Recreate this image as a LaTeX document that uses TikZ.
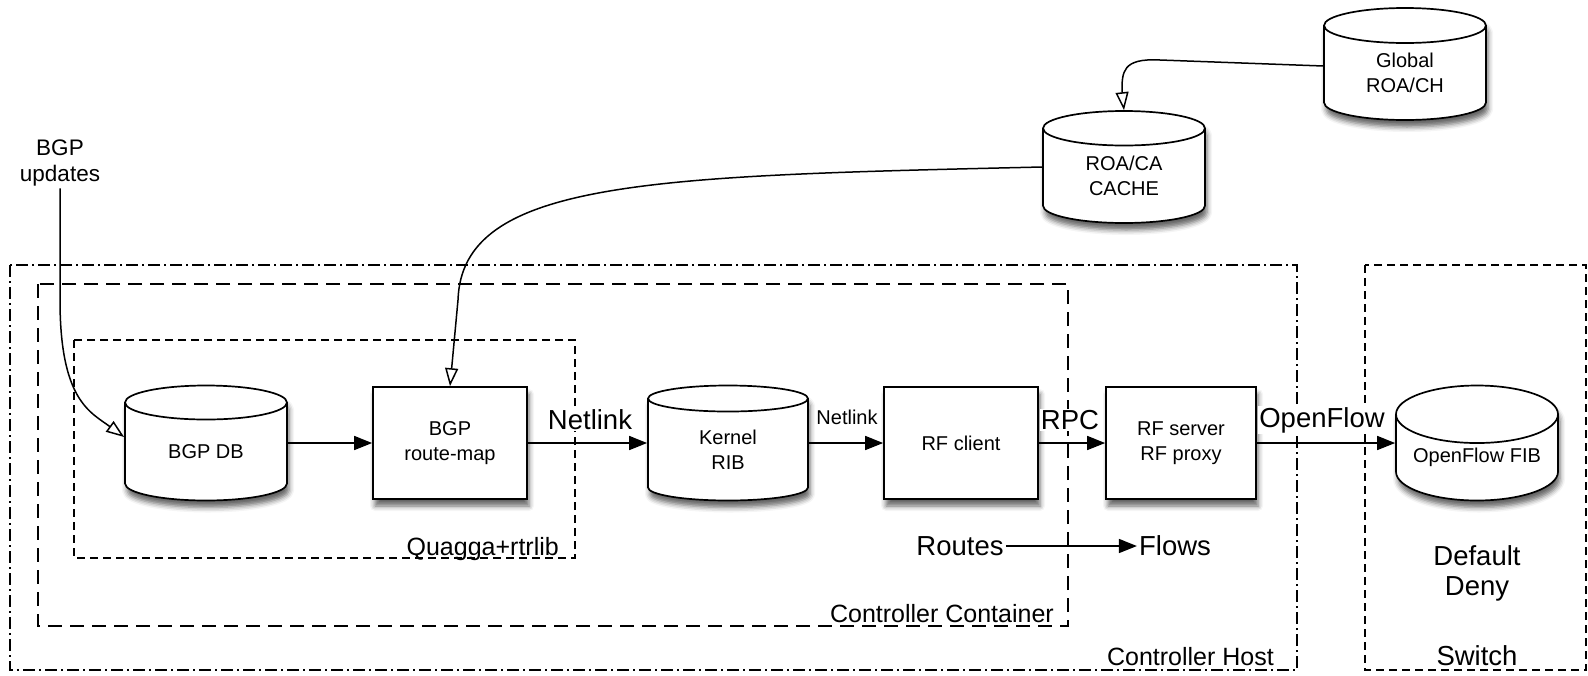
\documentclass[tikz,border=0pt]{standalone}
\usepackage{fontspec}
\setmainfont{Liberation Sans}
\usetikzlibrary{shapes.geometric, arrows.meta, shadows.blur}

\newcommand\nodefnt{\fontsize{20}{25}\selectfont}
\newcommand\lblfnt{\fontsize{27.5}{30}\selectfont}
\newcommand\boxfnt{\fontsize{25}{30}\selectfont}

\begin{document}
\begin{tikzpicture}[x=1pt, y=-1pt,
    db/.style={cylinder, shape border rotate=90, aspect=0.45, draw, line width=1.7pt, fill=white,
      minimum width=162pt, minimum height=115pt, inner sep=0pt, align=center, font=\nodefnt,
      anchor=shape center,
      blur shadow={shadow xshift=2pt, shadow yshift=-7pt, shadow blur radius=5pt, shadow opacity=60}},
    proc/.style={rectangle, draw, line width=1.7pt, fill=white, minimum width=154pt,
      minimum height=112pt, align=center, font=\nodefnt,
      blur shadow={shadow xshift=2pt, shadow yshift=-7pt, shadow blur radius=5pt, shadow opacity=60}},
    flow/.style={line width=1.5pt, -{Triangle[length=18pt,width=14pt]}},
    feed/.style={line width=1.5pt, -{Triangle[open,length=18pt,width=13pt]}},
    lbl/.style={font=\lblfnt, fill=white, inner sep=1pt},
    tag/.style={font=\lblfnt, align=center, inner sep=2pt},
  ]
\useasboundingbox (0,0) rectangle (1588,675);

% boxes
\draw[line width=1.5pt, dash pattern=on 12pt off 4pt on 2pt off 4pt] (10,265) rectangle (1297,670);
\draw[line width=1.5pt, dash pattern=on 14pt off 8pt] (38,284) rectangle (1068,626);
\draw[line width=1.5pt, dash pattern=on 8pt off 5pt] (74,340) rectangle (575,558);
\draw[line width=1.5pt, dash pattern=on 8pt off 5pt] (1365,265) rectangle (1586,670);

% main row
\node[db] (bgpdb) at (206,443) {BGP DB};
\node[proc] (routemap) at (450,443) {BGP\\route-map};
\node[db, minimum width=160pt] (kernel) at (728,443) {Kernel\\RIB};
\node[proc] (rfclient) at (961,443) {RF client};
\node[proc, minimum width=150pt] (rfserver) at (1181,443) {RF server\\RF proxy};
\node[db] (fib) at (1477,443) {OpenFlow FIB};

% caches
\node[db, minimum height=112pt] (cache) at (1124,167) {ROA/CA\\CACHE};
\node[db, minimum height=112pt] (global) at (1405,64) {Global\\ROA/CH};

% connectors
\draw[flow] (bgpdb.east |- routemap) -- (routemap);
\draw[flow] (routemap) -- (kernel.west |- routemap);
\draw[flow] (kernel.east |- rfclient) -- (rfclient);
\draw[flow] (rfclient) -- (rfserver);
\draw[flow] (rfserver) -- (fib.west |- rfserver);

\node[tag, font=\fontsize{22.5}{26}\selectfont] (upd) at (60,163) {BGP\\updates};
\draw[feed] (upd.south) -- (60,300) .. controls (60,400) and (90,412) .. (bgpdb.west |- 0,437);
\draw[feed] (cache.west |- 0,167) .. controls (650,176) and (462,180) .. (458,300) -- (routemap.north);
\draw[feed] (global.west |- 0,66) -- (1160,60) .. controls (1122,58) and (1122,72) .. (1122,92) -- (cache.north);

% labels
\node[lbl] (nl1) at (590,420) {Netlink};
\node[lbl, font=\nodefnt] (nl2) at (847,417) {Netlink};
\node[lbl] (rpc) at (1070,420) {RPC};
\node[lbl] (of) at (1322,420) {OpenFlow};

\node[tag] (routes) at (960,546) {Routes};
\node[tag] (flows) at (1175,546) {Flows};
\draw[flow] (routes) -- (flows);

\node[tag, font=\boxfnt, anchor=east] (quagga) at (561,549) {Quagga+rtrlib};
\node[tag, font=\boxfnt, anchor=east] (cont) at (1056,614) {Controller Container};
\node[tag, font=\boxfnt, anchor=east] (host) at (1276,657) {Controller Host};
\node[tag] (deny) at (1477,573) {Default\\Deny};
\node[tag] (sw) at (1477,656) {Switch};

\end{tikzpicture}
\end{document}
